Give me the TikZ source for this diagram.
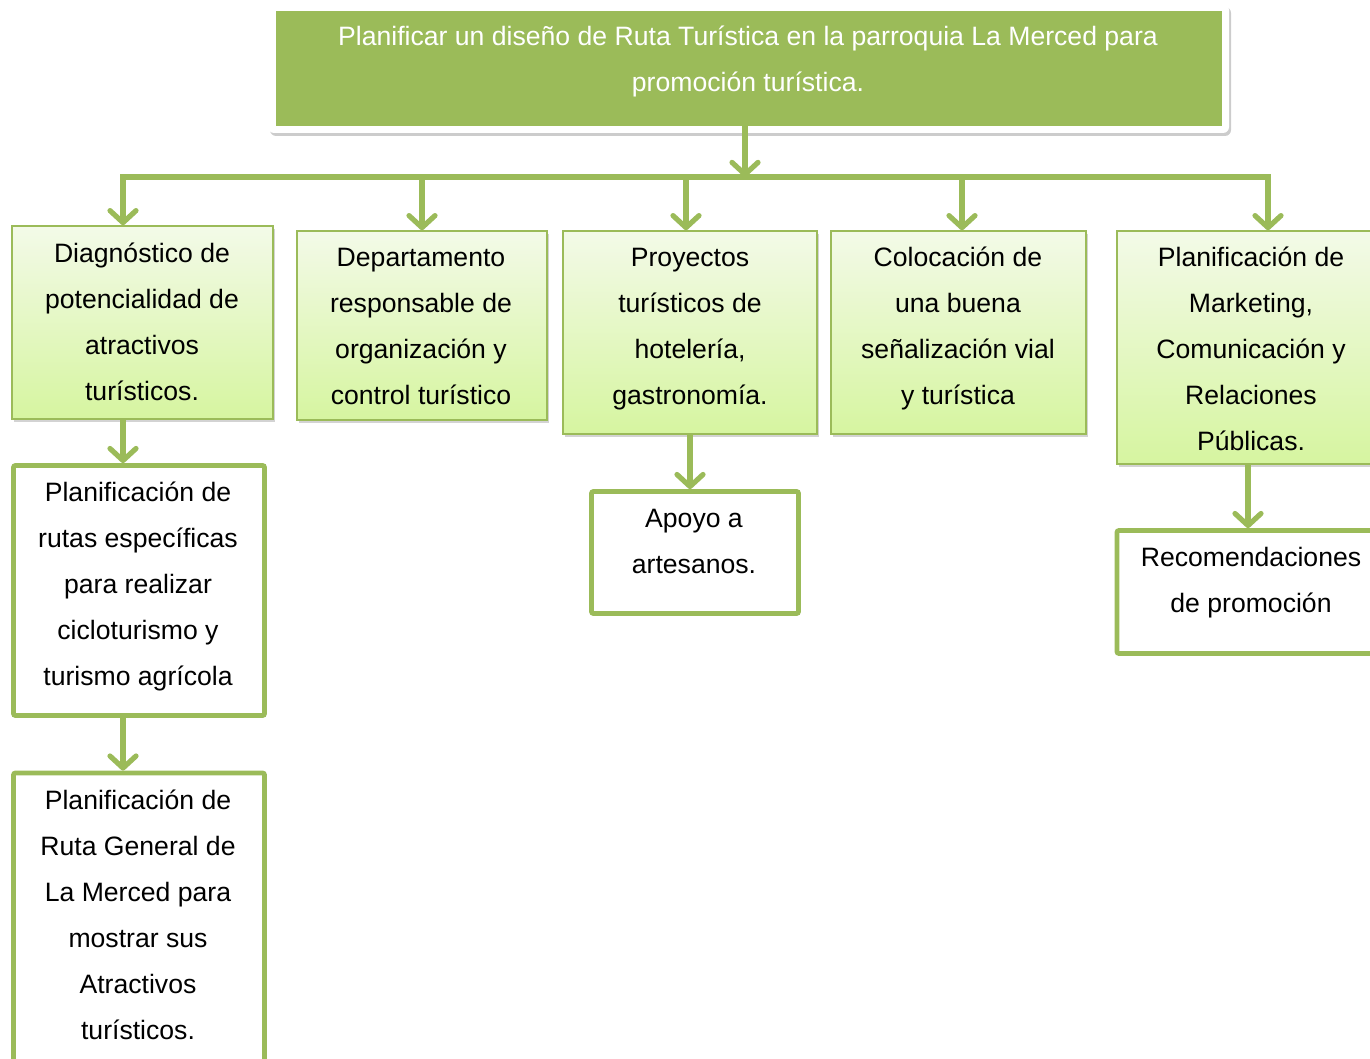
\documentclass[tikz,border=0pt]{standalone}
\usepackage{fontspec}
\setmainfont{Liberation Sans}
\usetikzlibrary{arrows.meta,shadows}
\definecolor{vgreen}{HTML}{9BBB59}
\definecolor{gtop}{HTML}{F3FAE8}
\definecolor{gbot}{HTML}{D6F5A0}
\begin{document}
\begin{tikzpicture}[x=0.5pt,y=-0.5pt,
  gbox/.style={draw=vgreen, line width=0.8pt, top color=gtop, bottom color=gbot, inner sep=0pt,
    drop shadow={opacity=0.35, shadow xshift=1pt, shadow yshift=-1.5pt}},
  wbox/.style={draw=vgreen, line width=2.4pt, fill=white, inner sep=0pt, rounded corners=1pt},
  txt/.style={font=\fontsize{13.3}{23}\selectfont, align=center, inner sep=0pt},
  conn/.style={draw=vgreen, line width=2.6pt},
  arr/.style={conn, -{Straight Barb[length=6pt,width=13pt,round]}}
]
\useasboundingbox (0,0) rectangle (1370,1059);

% title
\node[fill=white, rounded corners=3pt, minimum width=480.5pt, minimum height=64.5pt, inner sep=0pt,
  drop shadow={opacity=0.4, shadow xshift=1pt, shadow yshift=-1.5pt}] (frame) at (748.5,68.5) {};
\node[fill=vgreen, minimum width=473pt, minimum height=57.5pt, inner sep=0pt] (title) at (749,68.5) {};
\node[txt, text=white] (tt) at (748,61) {Planificar un diseño de Ruta Turística en la parroquia La Merced para\\promoción turística.};

% level 1 boxes
\node[gbox, minimum width=130.5pt, minimum height=96.5pt] (b1) at (142.5,322.5) {};
\node[gbox, minimum width=125pt, minimum height=94.5pt] (b2) at (422,325.5) {};
\node[gbox, minimum width=127pt, minimum height=101.5pt] (b3) at (690,332.5) {};
\node[gbox, minimum width=127.5pt, minimum height=101.5pt] (b4) at (958.5,332.5) {};
\node[gbox, minimum width=129pt, minimum height=116.5pt] (b5) at (1246,347.5) {};

\node[txt] (t1) at (142,321.5) {Diagnóstico de\\potencialidad de\\atractivos\\turísticos.};
\node[txt] (t2) at (421,326.5) {Departamento\\responsable de\\organización y\\control turístico};
\node[txt] (t3) at (690,329) {Proyectos\\turísticos de\\hotelería,\\gastronomía.};
\node[txt] (t4) at (958,328.5) {Colocación de\\una buena\\señalización vial\\y turística};
\node[txt] (t5) at (1251,348.5) {Planificación de\\Marketing,\\Comunicación y\\Relaciones\\Públicas.};

% white boxes
\node[wbox, minimum width=125.5pt, minimum height=125pt] (b6) at (139,590.5) {};
\node[wbox, minimum width=125.5pt, minimum height=155pt] (b7) at (139,928) {};
\node[wbox, minimum width=103.5pt, minimum height=61pt] (b8) at (695,552.5) {};
\node[wbox, minimum width=131pt, minimum height=61.5pt] (b9) at (1248,592) {};

\node[txt] (t6) at (138,586) {Planificación de\\rutas específicas\\para realizar\\cicloturismo y\\turismo agrícola};
\node[txt] (t7) at (138,915) {Planificación de\\Ruta General de\\La Merced para\\mostrar sus\\Atractivos\\turísticos.};
\node[txt] (t8) at (694,541) {Apoyo a\\artesanos.};
\node[txt] (t9) at (1251,583) {Recomendaciones\\de promoción};

% connectors
\coordinate (hub) at (745,177);
\coordinate (d1) at (123,177);
\coordinate (d2) at (422,177);
\coordinate (d3) at (686,177);
\coordinate (d4) at (962,177);
\coordinate (d5) at (1268,177);
\draw[conn, line join=miter] (d1 |- b1.north) ++(0,-2) -- (d1) -- (d5) -- ++(0,2);
\draw[arr] (hub |- title.south) -- (hub);
\draw[arr] (d1) -- (d1 |- b1.north);
\draw[arr] (d2) -- (d2 |- b2.north);
\draw[arr] (d3) -- (d3 |- b3.north);
\draw[arr] (d4) -- (d4 |- b4.north);
\draw[arr] (d5) -- (d5 |- b5.north);

\coordinate (c1) at (123,0);
\coordinate (c3) at (690,0);
\coordinate (c5) at (1248,0);
\draw[arr] (c1 |- b1.south) -- (c1 |- b6.north);
\draw[arr] (c1 |- b6.south) -- (c1 |- b7.north);
\draw[arr] (c3 |- b3.south) -- (c3 |- b8.north);
\draw[arr] (c5 |- b5.south) -- (c5 |- b9.north);
\end{tikzpicture}
\end{document}
